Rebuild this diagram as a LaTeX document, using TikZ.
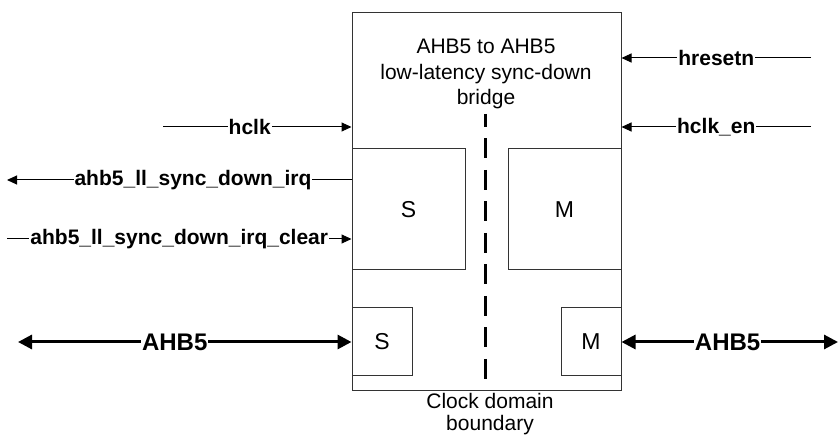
\documentclass[tikz,border=0pt]{standalone}
\usepackage{fontspec}
\setmainfont{Liberation Sans}
\usetikzlibrary{arrows.meta,positioning}

\begin{document}
\begin{tikzpicture}[x=0.5pt,y=-0.5pt,
  blk/.style={draw=black!80,line width=0.5pt,inner sep=0pt,
    font=\fontsize{11.5}{13}\selectfont},
  sig/.style={line width=0.5pt,-{Triangle[length=5pt,width=4.5pt]}},
  bus/.style={line width=1.5pt,{Triangle[length=7pt,width=7pt]}-{Triangle[length=7pt,width=7pt]}},
  lbl/.style={fill=white,inner sep=0.5pt,font=\fontsize{10.5}{12}\selectfont\bfseries},
  buslbl/.style={lbl,font=\fontsize{12}{14}\selectfont\bfseries},
  txt/.style={align=center,inner sep=0pt}]
  \useasboundingbox (0,0) rectangle (839,437);

  % Main bridge block.
  \node[blk,minimum width=134.5pt,minimum height=189pt] (main) at (486.5,202) {};
  \node[txt,font=\fontsize{10.5}{12.7}\selectfont] (title) at (486,74)
    {AHB5 to AHB5\\low-latency sync-down\\bridge};

  % Slave and master interfaces.
  \node[blk,minimum width=56.5pt,minimum height=60.5pt] (regS) at (408.5,209.5) {S};
  \node[blk,minimum width=56.5pt,minimum height=60.5pt] (regM) at (564.5,209.5) {M};
  \node[blk,minimum width=30pt,minimum height=34pt] (busS) at (382,342) {S};
  \node[blk,minimum width=30pt,minimum height=34pt] (busM) at (591,342) {M};

  % Clock domain boundary.
  \coordinate (cdTop) at (485.5,114);
  \coordinate (cdBot) at (485.5,383);
  \draw[line width=1.5pt,dash pattern=on 10pt off 5.75pt,dash phase=3.5pt] (cdTop) -- (cdBot);
  \node[txt,font=\fontsize{10.5}{11}\selectfont] (cdlbl) at (490,414)
    {Clock domain\\boundary};

  % Left-hand signals.
  \coordinate (hclkL) at (163,127);
  \coordinate (irqL) at (7,180);
  \coordinate (clrL) at (7,239);
  \draw[sig] (hclkL) -- node[lbl,pos=0.46] {hclk} (main.west |- hclkL);
  \draw[sig] (main.west |- irqL) -- node[lbl,pos=0.46] {ahb5\_ll\_sync\_down\_irq} (irqL);
  \draw[sig] (clrL) -- node[lbl,pos=0.5] {ahb5\_ll\_sync\_down\_irq\_clear} (main.west |- clrL);

  % Right-hand signals.
  \coordinate (rstR) at (811,58);
  \coordinate (enR) at (811,127);
  \draw[sig] (rstR) -- node[lbl] {hresetn} (main.east |- rstR);
  \draw[sig] (enR) -- node[lbl] {hclk\_en} (main.east |- enR);

  % AHB5 buses.
  \coordinate (busL) at (18,342);
  \coordinate (busR) at (838,342);
  \draw[bus] (busL) -- node[buslbl,pos=0.47] {AHB5} (busS.west);
  \draw[bus] (busM.east) -- node[buslbl,pos=0.49] {AHB5} (busR);
\end{tikzpicture}
\end{document}
